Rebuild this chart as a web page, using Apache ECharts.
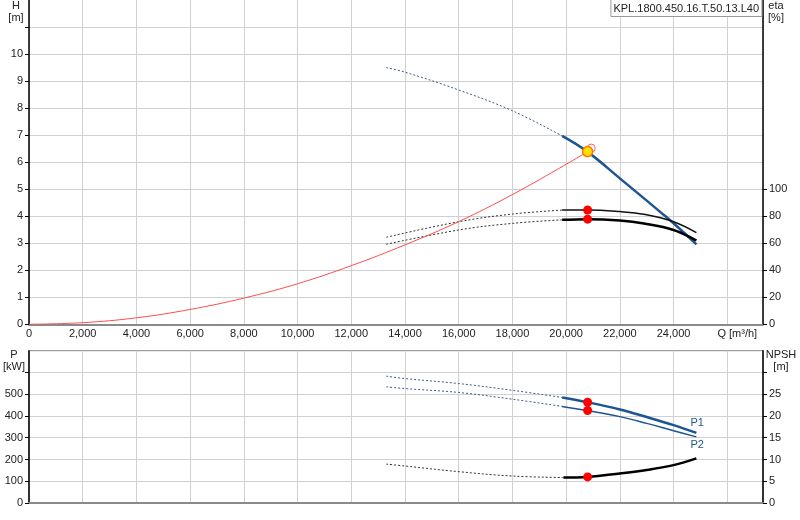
<!DOCTYPE html>
<html>
<head>
<meta charset="utf-8">
<script src="https://cdn.jsdelivr.net/npm/echarts@6/dist/echarts.min.js"></script>
<style>
  html, body { margin: 0; padding: 0; background: #fff; }
  #chart { width: 800px; height: 520px; }
</style>
</head>
<body>
<div id="chart"></div>
<script>
// Q [m3/h] on x
const qTicks = [0, 2000, 4000, 6000, 8000, 10000, 12000, 14000, 16000, 18000, 20000, 22000, 24000, 26000];
const hTicks = [0, 1, 2, 3, 4, 5, 6, 7, 8, 9, 10];
const etaTicks = [0, 20, 40, 60, 80, 100];
const pTicks = [0, 100, 200, 300, 400, 500];
const npshTicks = [0, 5, 10, 15, 20, 25];

// H curve (dotted outside the range, solid inside)
const headDashed = [[13300, 9.5], [14000, 9.33], [16000, 8.67], [18000, 7.9], [19850, 6.97]];
const headSolid = [[19850, 6.97], [20800, 6.38], [22000, 5.40], [22900, 4.66], [23500, 4.16], [24000, 3.74], [24850, 2.96]];

// eta curves, right axis
const etaUpDashed = [[13300, 64.4], [16000, 75.9], [18000, 81.6], [19850, 84.5]];
const etaUpSolid = [[19850, 84.5], [20800, 84.6], [22000, 83.4], [22900, 81.4], [24000, 75.9], [24850, 67.8]];
const etaLowDashed = [[13300, 59.2], [16000, 69.8], [18000, 74.7], [19850, 77.3]];
const etaLowSolid = [[19850, 77.3], [20800, 77.8], [22000, 76.8], [22900, 74.6], [24000, 69.8], [24850, 62]];

// system curve
const systemCurve = [[0, 0], [2000, 0.06], [4000, 0.24], [6000, 0.55], [8000, 0.97], [10000, 1.5], [12000, 2.17],
    [14000, 2.94], [16000, 3.8], [18000, 4.8], [20000, 5.92], [20800, 6.39]];

const dutyPoint = [[20800, 6.39]];
const requestPoint = [[20935, 6.52]];
const etaPoints = [[20800, 84.6], [20800, 77.8]];

// power and NPSH
const p1Dashed = [[13300, 583], [14000, 572], [16000, 549], [18000, 518], [19850, 485]];
const p1Solid = [[19850, 485], [20800, 463], [22000, 430], [23000, 395], [24000, 358], [24850, 322]];
const p2Dashed = [[13300, 534], [14000, 526], [16000, 508], [18000, 477], [19850, 444]];
const p2Solid = [[19850, 444], [20800, 425], [22000, 397], [23000, 366], [24000, 332], [24850, 304]];
const npshDashed = [[13300, 8.94], [14000, 8.5], [16000, 7.2], [18000, 6.2], [19900, 5.85]];
const npshSolid = [[19900, 5.85], [20800, 6.0], [22000, 6.8], [23000, 7.6], [24000, 8.7], [24850, 10.25]];
const powerPoints = [[20800, 463], [20800, 425]];
const npshPoints = [[20800, 6.0]];

window.addEventListener('load', function () {
    let myChart = echarts.init(document.getElementById('chart'));

    const font = 'Liberation Sans';
    const blue = '#1c5590';
    const gridColor = '#d0d0d0';

    function line(name, data, x, y, color, width, dashed) {
        return {
            name: name, type: 'line', xAxisIndex: x, yAxisIndex: y,
            data: data, smooth: 0.4, symbol: 'none', silent: true,
            lineStyle: { color: color, width: width, type: dashed ? [2, 2] : 'solid' },
            z: dashed ? 2 : 3
        };
    }

    function dots(data, x, y, size, fill, border, bw) {
        return {
            type: 'scatter', xAxisIndex: x, yAxisIndex: y, data: data,
            symbolSize: size, silent: true, z: 5,
            itemStyle: { color: fill, borderColor: border, borderWidth: bw, opacity: 1 }
        };
    }

    function unitText(x, y, text) {
        return {
            type: 'text', x: x, y: y, silent: true,
            style: { text: text, fontSize: 11, lineHeight: 12, fill: '#222', align: 'center', fontFamily: font }
        };
    }

    const qAxisBase = {
        type: 'value', min: 0, max: 27330, interval: 2000,
        axisLine: { show: true, onZero: false, lineStyle: { color: '#8a8a8a', width: 2 } },
        axisTick: { show: false },
        splitLine: { show: true, lineStyle: { color: gridColor, width: 1 } }
    };

    let option = {
        animation: false,
        backgroundColor: '#fff',
        textStyle: { fontFamily: font },
        title: {
            text: 'KPL.1800.450.16.T.50.13.L40',
            right: 38, top: -1,
            padding: [4, 3, 3, 3],
            borderColor: '#999', borderWidth: 1,
            backgroundColor: '#fff',
            textStyle: { fontSize: 11, fontWeight: 'normal', color: '#222', fontFamily: font }
        },
        graphic: [
            unitText(16, 0, 'H\n[m]'),
            unitText(776, 0, 'eta\n[%]'),
            unitText(14, 349, 'P\n[kW]'),
            unitText(781, 349, 'NPSH\n[m]')
        ],
        grid: [
            { left: 29, right: 37, top: 0, height: 324.3 },
            { left: 29, right: 37, top: 350.7, height: 152.3, show: true, borderColor: '#888', borderWidth: 1, backgroundColor: 'transparent' }
        ],
        xAxis: [
            Object.assign({}, qAxisBase, {
                gridIndex: 0,
                axisLabel: {
                    customValues: qTicks, color: '#222', fontSize: 11, margin: 4,
                    formatter: function (v) {
                        if (v === 26000) return '{q|Q [m³/h]}';
                        return v.toLocaleString('en-US');
                    },
                    rich: { q: { padding: [0, 0, 0, 20], fontSize: 11, color: '#222' } }
                }
            }),
            Object.assign({}, qAxisBase, {
                gridIndex: 1,
                axisLabel: { show: false }
            })
        ],
        yAxis: [
            {
                type: 'value', gridIndex: 0, min: 0, max: 12, interval: 1,
                axisLine: { show: true, lineStyle: { color: '#000', width: 1.5 } },
                axisTick: { show: true, length: 4, customValues: [0, 1, 2, 3, 4, 5, 6, 7, 8, 9, 10, 11], lineStyle: { color: '#000' } },
                axisLabel: { customValues: hTicks, color: '#222', fontSize: 11, margin: 6 },
                splitLine: { show: true, lineStyle: { color: gridColor, width: 1 } }
            },
            {
                type: 'value', gridIndex: 0, position: 'right', min: 0, max: 240, interval: 20,
                axisLine: { show: true, lineStyle: { color: '#000', width: 1.5 } },
                axisTick: { show: true, length: 4, customValues: etaTicks, lineStyle: { color: '#000' } },
                axisLabel: { customValues: etaTicks, color: '#222', fontSize: 11, margin: 6 },
                splitLine: { show: false }
            },
            {
                type: 'value', gridIndex: 1, min: 0, max: 700, interval: 100,
                axisLine: { show: true, lineStyle: { color: '#000', width: 1.5 } },
                axisTick: { show: true, length: 4, customValues: [0, 100, 200, 300, 400, 500, 600], lineStyle: { color: '#000' } },
                axisLabel: { customValues: pTicks, color: '#222', fontSize: 11, margin: 6 },
                splitLine: { show: true, lineStyle: { color: gridColor, width: 1 } }
            },
            {
                type: 'value', gridIndex: 1, position: 'right', min: 0, max: 35, interval: 5,
                axisLine: { show: true, lineStyle: { color: '#000', width: 1.5 } },
                axisTick: { show: true, length: 4, customValues: [0, 5, 10, 15, 20, 25, 30], lineStyle: { color: '#000' } },
                axisLabel: { customValues: npshTicks, color: '#222', fontSize: 11, margin: 6 },
                splitLine: { show: false }
            }
        ],
        series: [
            line('system', systemCurve, 0, 0, '#ff4d4d', 1, false),
            line('H', headDashed, 0, 0, '#3d5c8c', 1, true),
            line('H', headSolid, 0, 0, blue, 2.5, false),
            line('eta', etaUpDashed, 0, 1, '#333', 1, true),
            line('eta', etaUpSolid, 0, 1, '#111', 1.5, false),
            line('eta2', etaLowDashed, 0, 1, '#333', 1, true),
            line('eta2', etaLowSolid, 0, 1, '#000', 2.5, false),
            dots(etaPoints, 0, 1, 9, '#ff0000', '#ff0000', 0),
            dots(requestPoint, 0, 0, 8, 'rgba(255,255,255,0)', '#ff6060', 1),
            dots(dutyPoint, 0, 0, 10, '#ffe000', '#ff7a00', 1.5),

            line('P1', p1Dashed, 1, 2, '#3d5c8c', 1, true),
            Object.assign(line('P1', p1Solid, 1, 2, blue, 2.5, false), {
                endLabel: { show: true, formatter: 'P1', color: blue, fontSize: 11, fontFamily: font, offset: [-14, -10] }
            }),
            line('P2', p2Dashed, 1, 2, '#3d5c8c', 1, true),
            Object.assign(line('P2', p2Solid, 1, 2, blue, 1.5, false), {
                endLabel: { show: true, formatter: 'P2', color: blue, fontSize: 11, fontFamily: font, offset: [-14, 8] }
            }),
            line('NPSH', npshDashed, 1, 3, '#333', 1, true),
            line('NPSH', npshSolid, 1, 3, '#000', 2.5, false),
            dots(powerPoints, 1, 2, 9, '#ff0000', '#ff0000', 0),
            dots(npshPoints, 1, 3, 9, '#ff0000', '#ff0000', 0)
        ]
    };

    myChart.setOption(option);
});
</script>
</body>
</html>
